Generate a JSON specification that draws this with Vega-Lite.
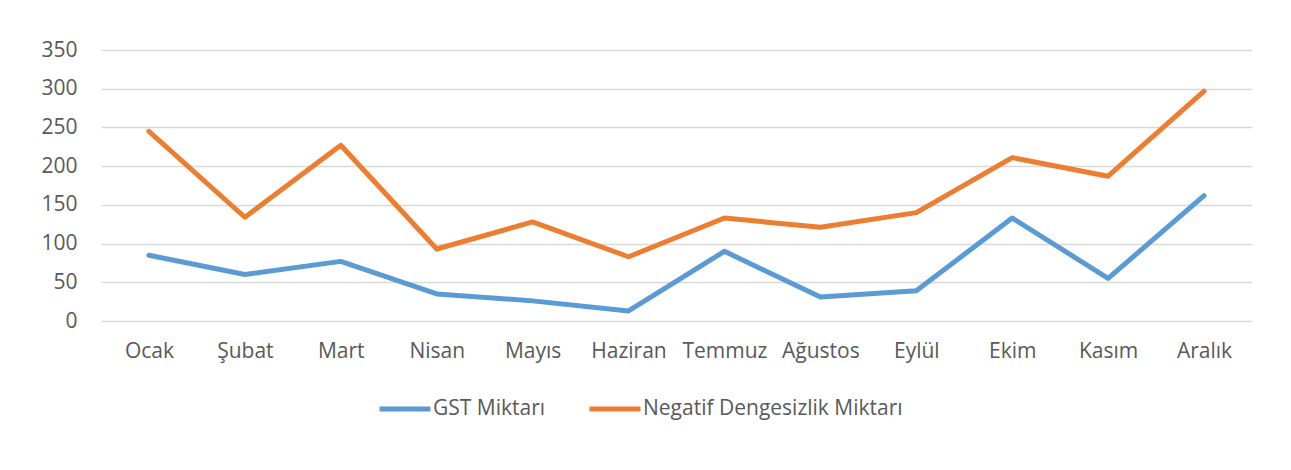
{
  "$schema": "https://vega.github.io/schema/vega-lite/v6.json",
  "autosize": "none",
  "padding": {"left": 101, "top": 50, "right": 39, "bottom": 149},
  "width": 1151,
  "height": 271,
  "background": "white",
  "config": {
    "view": {"stroke": null},
    "font": "Open Sans"
  },
  "data": {
    "values": [
      {"ay": "Ocak", "seri": "GST Miktarı", "deger": 85},
      {"ay": "Şubat", "seri": "GST Miktarı", "deger": 60},
      {"ay": "Mart", "seri": "GST Miktarı", "deger": 77},
      {"ay": "Nisan", "seri": "GST Miktarı", "deger": 35},
      {"ay": "Mayıs", "seri": "GST Miktarı", "deger": 26},
      {"ay": "Haziran", "seri": "GST Miktarı", "deger": 13},
      {"ay": "Temmuz", "seri": "GST Miktarı", "deger": 90},
      {"ay": "Ağustos", "seri": "GST Miktarı", "deger": 31},
      {"ay": "Eylül", "seri": "GST Miktarı", "deger": 39},
      {"ay": "Ekim", "seri": "GST Miktarı", "deger": 133},
      {"ay": "Kasım", "seri": "GST Miktarı", "deger": 55},
      {"ay": "Aralık", "seri": "GST Miktarı", "deger": 162},
      {"ay": "Ocak", "seri": "Negatif Dengesizlik Miktarı", "deger": 245},
      {"ay": "Şubat", "seri": "Negatif Dengesizlik Miktarı", "deger": 134},
      {"ay": "Mart", "seri": "Negatif Dengesizlik Miktarı", "deger": 227},
      {"ay": "Nisan", "seri": "Negatif Dengesizlik Miktarı", "deger": 93},
      {"ay": "Mayıs", "seri": "Negatif Dengesizlik Miktarı", "deger": 128},
      {"ay": "Haziran", "seri": "Negatif Dengesizlik Miktarı", "deger": 83},
      {"ay": "Temmuz", "seri": "Negatif Dengesizlik Miktarı", "deger": 133},
      {"ay": "Ağustos", "seri": "Negatif Dengesizlik Miktarı", "deger": 121},
      {"ay": "Eylül", "seri": "Negatif Dengesizlik Miktarı", "deger": 140},
      {"ay": "Ekim", "seri": "Negatif Dengesizlik Miktarı", "deger": 211},
      {"ay": "Kasım", "seri": "Negatif Dengesizlik Miktarı", "deger": 187},
      {"ay": "Aralık", "seri": "Negatif Dengesizlik Miktarı", "deger": 297}
    ]
  },
  "mark": {"type": "line", "strokeWidth": 5, "strokeJoin": "round", "strokeCap": "round"},
  "encoding": {
    "x": {
      "field": "ay",
      "type": "ordinal",
      "sort": ["Ocak", "Şubat", "Mart", "Nisan", "Mayıs", "Haziran", "Temmuz", "Ağustos", "Eylül", "Ekim", "Kasım", "Aralık"],
      "scale": {"type": "point", "padding": 0.5},
      "axis": {
        "title": null,
        "domain": false,
        "ticks": false,
        "labelAngle": 0,
        "labelFont": "Open Sans",
        "labelFontSize": 21,
        "labelColor": "#595959",
        "labelPadding": 19,
        "labelBaseline": "top"
      }
    },
    "y": {
      "field": "deger",
      "type": "quantitative",
      "scale": {"domain": [0, 350], "nice": false},
      "axis": {
        "title": null,
        "domain": false,
        "ticks": false,
        "values": [0, 50, 100, 150, 200, 250, 300, 350],
        "labelFont": "Open Sans",
        "labelFontSize": 21,
        "labelColor": "#595959",
        "labelPadding": 24,
        "gridColor": "#d9d9d9",
        "gridWidth": 1.5
      }
    },
    "color": {
      "field": "seri",
      "type": "nominal",
      "scale": {"domain": ["GST Miktarı", "Negatif Dengesizlik Miktarı"], "range": ["#5b9bd5", "#ed7d31"]},
      "legend": {
        "title": null,
        "orient": "none",
        "direction": "horizontal",
        "legendX": 276,
        "legendY": 331,
        "symbolType": "stroke",
        "symbolSize": 2600,
        "symbolStrokeWidth": 5,
        "labelFont": "Open Sans",
        "labelFontSize": 21,
        "labelColor": "#595959",
        "labelOffset": 0,
        "labelLimit": 0,
        "columnPadding": 33
      }
    }
  }
}
